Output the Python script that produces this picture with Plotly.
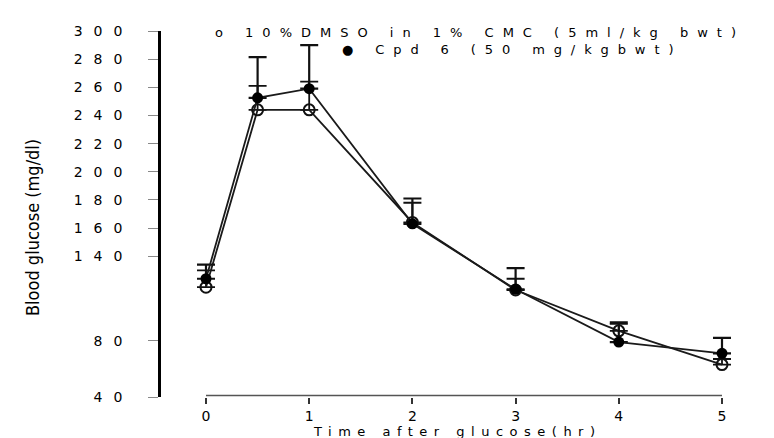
import plotly.graph_objects as go

# ---- data ----
time_hr = [0, 0.5, 1, 2, 3, 4, 5]
vehicle_mean = [118, 244, 244, 164, 116, 87, 63]
vehicle_sd = [12, 17, 20, 14, 8, 5, 4]
cpd6_mean = [124, 252.5, 259, 163, 116.5, 79, 71]
cpd6_sd = [10, 29, 31, 18, 15, 14, 11]

y_tick_vals = [40, 80, 140, 160, 180, 200, 220, 240, 260, 280, 300]
x_tick_vals = [0, 1, 2, 3, 4, 5]

legend_vehicle = "10%DMSO in 1% CMC (5ml/kg bwt)"
legend_cpd6 = "Cpd 6 (50 mg/kgbwt)"
x_title = "Time after glucose(hr)"
y_title = "Blood glucose (mg/dl)"

W, H = 774, 438
L, R, T, B = 153, 44, 23, 49
plot_w = W - L - R
plot_h = H - T - B
px_per_unit = 103.2
x_min = -45 / px_per_unit
x_max = x_min + plot_w / px_per_unit

FONT = "DejaVu Sans"


def spaced(s, sp):
    return f'<span style="letter-spacing:{sp}px">{s}</span>'


def px_x(px):
    return (px - L) / plot_w


def px_y(py):
    return 1 - (py - T) / plot_h


fig = go.Figure()

fig.add_trace(go.Scatter(
    x=time_hr, y=vehicle_mean, mode="lines+markers",
    line=dict(color="#1a1a1a", width=1.8),
    marker=dict(symbol="circle-open", size=11, color="#111", line=dict(width=2)),
    error_y=dict(type="data", array=vehicle_sd, arrayminus=[0] * len(vehicle_sd),
                 symmetric=False, color="#111", thickness=1.8, width=9),
    cliponaxis=False, showlegend=False,
))
fig.add_trace(go.Scatter(
    x=time_hr, y=cpd6_mean, mode="lines+markers",
    line=dict(color="#1a1a1a", width=1.8),
    marker=dict(symbol="circle", size=11, color="#000"),
    error_y=dict(type="data", array=cpd6_sd, arrayminus=[0] * len(cpd6_sd),
                 symmetric=False, color="#111", thickness=2.2, width=9),
    cliponaxis=False, showlegend=False,
))

# x axis line only from 0 to 5
fig.add_shape(type="line", xref="x", yref="paper", x0=x_tick_vals[0], x1=x_tick_vals[-1],
              y0=0.004, y1=0.004, line=dict(color="#555", width=1.5))

fig.update_xaxes(
    range=[x_min, x_max], showline=False, showgrid=False, zeroline=False,
    tickmode="array", tickvals=x_tick_vals, ticktext=[str(v) for v in x_tick_vals],
    ticks="outside", ticklen=6, tickwidth=1.5, tickcolor="#333",
    tickfont=dict(family=FONT, size=14, color="#000"),
)
fig.update_yaxes(
    range=[40, 300], showline=True, linecolor="#000", linewidth=2.5,
    showgrid=False, zeroline=False,
    tickmode="array", tickvals=y_tick_vals,
    ticktext=[spaced(str(v), 11) for v in y_tick_vals],
    ticks="outside", ticklen=10, tickwidth=1, tickcolor="#888",
    ticklabelstandoff=12,
    tickfont=dict(family=FONT, size=14, color="#000"),
)

# legend lines
fig.add_annotation(xref="paper", yref="paper", x=px_x(205), y=px_y(24.5),
                   xanchor="left", yanchor="middle", showarrow=False,
                   text=spaced("o " + legend_vehicle, 9.0),
                   font=dict(family=FONT, size=13, color="#000"))
fig.add_annotation(xref="paper", yref="paper", x=px_x(332), y=px_y(41),
                   xanchor="left", yanchor="middle", showarrow=False,
                   text=spaced("\u25cf " + legend_cpd6, 8.9),
                   font=dict(family=FONT, size=13, color="#000"))

# axis titles
fig.add_annotation(xref="paper", yref="paper", x=px_x(449), y=px_y(423),
                   xanchor="center", yanchor="middle", showarrow=False,
                   text=spaced(x_title, 6.5),
                   font=dict(family=FONT, size=13, color="#000"))
fig.add_annotation(xref="paper", yref="paper", x=px_x(24), y=px_y(220),
                   xanchor="center", yanchor="middle", showarrow=False, textangle=-90,
                   text=y_title,
                   font=dict(family="Liberation Sans Narrow, DejaVu Sans Condensed, Liberation Sans",
                             size=18, color="#000"))

fig.update_layout(
    width=W, height=H, margin=dict(l=L, r=R, t=T, b=B),
    paper_bgcolor="white", plot_bgcolor="white",
)

fig.write_html("out.html")
